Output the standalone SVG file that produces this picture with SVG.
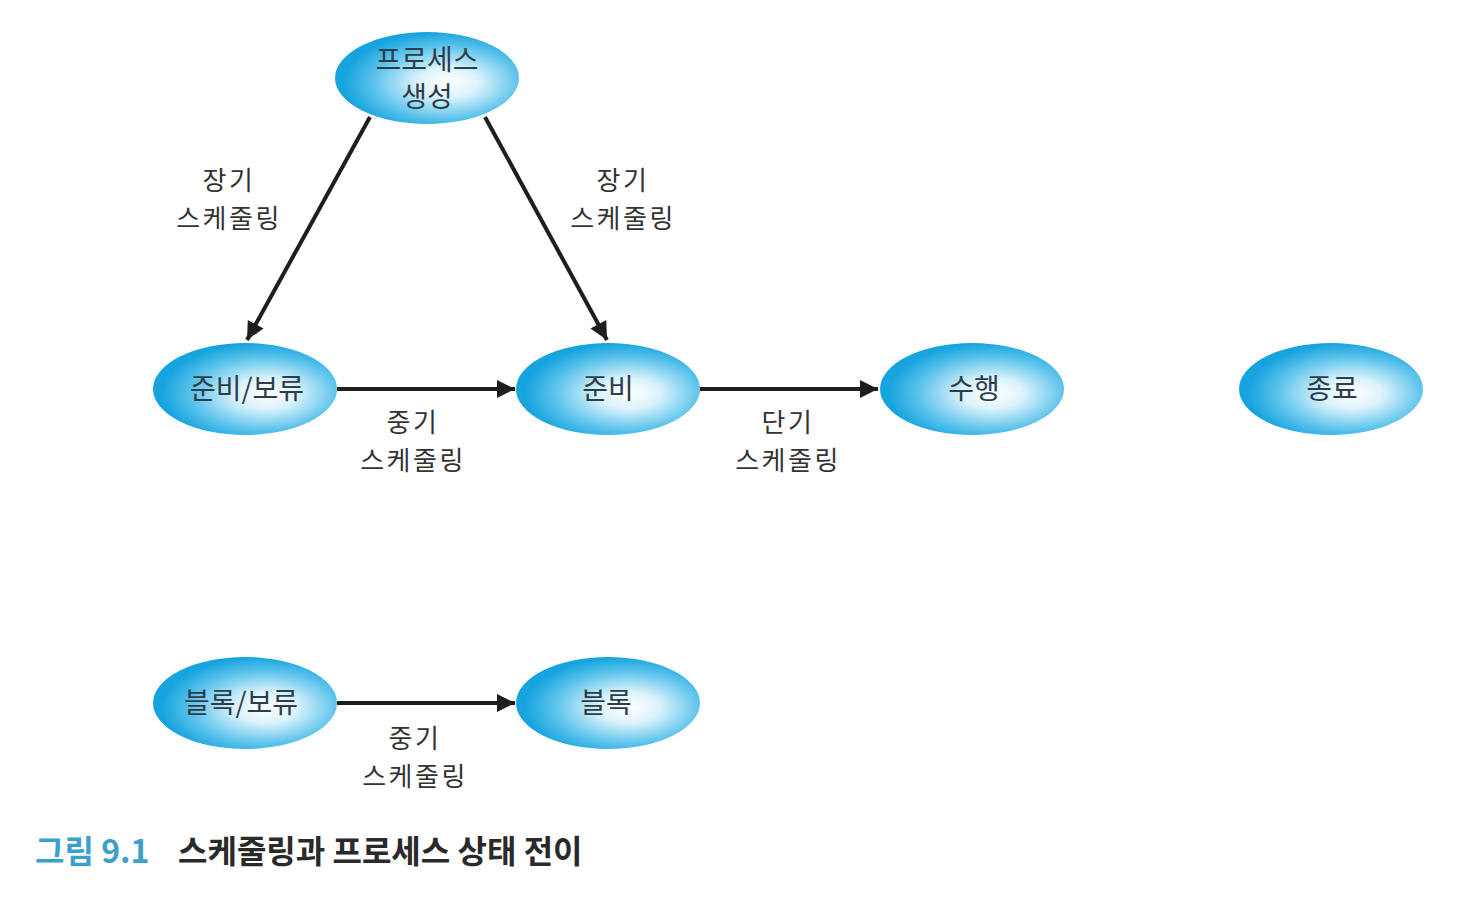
<svg xmlns="http://www.w3.org/2000/svg" width="1458" height="906" viewBox="0 0 1458 906">
<style>
.node{fill:url(#g)}
.nt{font-family:"Noto Sans CJK KR","Noto Sans",sans-serif;font-size:28px;fill:#2e3d4a;text-anchor:middle}
.lb{font-family:"Noto Sans CJK KR","Noto Sans",sans-serif;font-size:26px;letter-spacing:2.5px;fill:#333;text-anchor:middle}
.edge{stroke:#1e1e1e;stroke-width:4;fill:none;marker-end:url(#ah)}
.cap{font-family:"Noto Sans CJK KR","Noto Sans",sans-serif;font-size:32px;font-weight:bold}
</style>
<defs>
<radialGradient id="g" cx="0.6" cy="0.55" r="0.55" fx="0.62" fy="0.55">
<stop offset="0" stop-color="#ffffff"/>
<stop offset="0.3" stop-color="#dcf3fb"/>
<stop offset="0.72" stop-color="#5cc3ec"/>
<stop offset="1" stop-color="#17a4de"/>
</radialGradient>
<marker id="ah" viewBox="0 0 10 10" refX="10" refY="5" markerWidth="5.5" markerHeight="4.5" markerUnits="strokeWidth" orient="auto">
<path d="M0,0 L10,5 L0,10 Z" fill="#1e1e1e"/>
</marker>
</defs>
<rect width="1458" height="906" fill="#fff"/>
<g id="connectors">
<line class="edge" x1="370" y1="117" x2="247" y2="340"/>
<line class="edge" x1="485" y1="117" x2="607" y2="340"/>
<line class="edge" x1="337" y1="389" x2="515" y2="389"/>
<line class="edge" x1="700" y1="389" x2="878" y2="389"/>
<line class="edge" x1="337" y1="703" x2="515" y2="703"/>
<text class="lb" x="229" y="190">장기</text>
<text class="lb" x="229" y="228">스케줄링</text>
<text class="lb" x="623" y="190">장기</text>
<text class="lb" x="623" y="228">스케줄링</text>
<text class="lb" x="413" y="432">중기</text>
<text class="lb" x="413" y="470">스케줄링</text>
<text class="lb" x="788" y="432">단기</text>
<text class="lb" x="788" y="470">스케줄링</text>
<text class="lb" x="415" y="748">중기</text>
<text class="lb" x="415" y="786">스케줄링</text>
</g>
<g id="n-create">
<ellipse class="node" cx="427" cy="78" rx="92" ry="46"/>
<text class="nt" x="427" y="70">프로세스</text>
<text class="nt" x="427" y="107">생성</text>
</g>
<g id="n-readysusp">
<ellipse class="node" cx="245" cy="389" rx="92" ry="46"/>
<text class="nt" x="247" y="399">준비/보류</text>
</g>
<g id="n-ready">
<ellipse class="node" cx="608" cy="389" rx="92" ry="46"/>
<text class="nt" x="608" y="399">준비</text>
</g>
<g id="n-run">
<ellipse class="node" cx="972" cy="389" rx="92" ry="46"/>
<text class="nt" x="974" y="399">수행</text>
</g>
<g id="n-exit">
<ellipse class="node" cx="1331" cy="389" rx="92" ry="46"/>
<text class="nt" x="1332" y="399">종료</text>
</g>
<g id="n-blocksusp">
<ellipse class="node" cx="245" cy="703" rx="92" ry="46"/>
<text class="nt" x="241" y="713">블록/보류</text>
</g>
<g id="n-block">
<ellipse class="node" cx="608" cy="703" rx="92" ry="46"/>
<text class="nt" x="606" y="713">블록</text>
</g>
<g id="caption">
<text class="cap" x="35" y="863" fill="#3c9fcc">그림 9.1</text>
<text class="cap" x="178" y="863" fill="#2a2a2a">스케줄링과 프로세스 상태 전이</text>
</g>
</svg>
